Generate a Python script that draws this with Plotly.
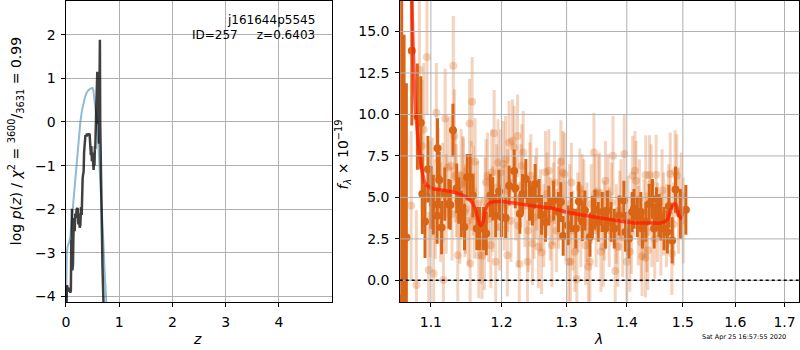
import numpy as np
import plotly.graph_objects as go

# ---------------- left panel: redshift PDF ----------------
z_pdf = [0.008, 0.019, 0.040, 0.060, 0.082, 0.092, 0.100, 0.106, 0.112, 0.120, 0.131,
         0.140, 0.150, 0.163, 0.175, 0.187, 0.200, 0.219, 0.232, 0.245, 0.258, 0.270,
         0.282, 0.295, 0.300, 0.307, 0.313, 0.322, 0.331, 0.340, 0.350, 0.365, 0.380,
         0.393, 0.410, 0.425, 0.444, 0.452, 0.460, 0.468, 0.476, 0.487, 0.497, 0.505,
         0.512, 0.519, 0.528, 0.535, 0.543, 0.550, 0.556, 0.562, 0.570, 0.576, 0.582,
         0.588, 0.594, 0.600, 0.607, 0.614, 0.620, 0.625, 0.631, 0.637, 0.643, 0.650,
         0.665, 0.685, 0.710]
logp_pdf = [-4.3, -3.74, -3.88, -3.80, -3.91, -3.85, -2.7, -3.3, -1.99, -3.4, -3.27,
            -2.6, -2.2, -2.5, -2.1, -2.2, -2.0, -1.97, -2.35, -2.1, -2.42, -2.36,
            -1.95, -2.13, -1.7, -1.5, -1.29, -1.2, -1.14, -0.7, -0.38, -0.30, -0.33,
            -0.27, -0.30, -0.28, -0.27, -0.45, -0.62, -0.76, -0.55, -0.9, -0.7, -1.05,
            -0.8, -1.1, -0.85, -1.0, -0.56, -0.62, -0.3, 0.02, -0.2, 0.6, 1.1,
            1.15, 0.4, 1.12, -0.05, 0.8, -0.5, 1.1, 0.2, 1.88, 0.0, -0.7,
            -1.9, -3.3, -4.4]

z_prior = [0.000, 0.005, 0.015, 0.030, 0.060, 0.082, 0.110, 0.144, 0.175, 0.206, 0.240,
           0.270, 0.300, 0.331, 0.360, 0.393, 0.430, 0.468, 0.500, 0.515, 0.532, 0.555,
           0.580, 0.605, 0.631, 0.652, 0.674, 0.700, 0.725, 0.757, 0.770]
logp_prior = [-4.3, -3.6, -3.0, -2.85, -2.75, -2.62, -2.2, -1.75, -1.25, -0.76, -0.35,
              0.0, 0.26, 0.46, 0.58, 0.68, 0.74, 0.77, 0.78, 0.72, 0.53, 0.28,
              0.0, -0.45, -1.0, -1.5, -2.0, -2.7, -3.4, -4.1, -4.4]

# ---------------- right panel: spectrum ----------------
dark_wave = [1.0612, 1.0643, 1.0673, 1.0745, 1.0819, 1.0864, 1.0885, 1.0921, 1.0960, 1.1003,
             1.1033, 1.1085, 1.1090, 1.1114, 1.1146, 1.1190, 1.1246, 1.1266, 1.1303, 1.1356,
             1.1384, 1.1420, 1.1465, 1.1502, 1.1545, 1.1583, 1.1640, 1.1678, 1.1735, 1.1776,
             1.1835, 1.1872, 1.1914, 1.1963, 1.2000, 1.2061, 1.2112, 1.2188, 1.2203, 1.2273,
             1.2314, 1.2364, 1.2420, 1.2465, 1.2506, 1.2567, 1.2606, 1.2667, 1.2718, 1.2794,
             1.2870, 1.2909, 1.2945, 1.3023, 1.3077, 1.3148, 1.3198, 1.3254, 1.3296, 1.3379,
             1.3420, 1.3461, 1.3517, 1.3583, 1.3637, 1.3670, 1.3731, 1.3786, 1.3868, 1.3950,
             1.3978, 1.4036, 1.4094, 1.4124, 1.4183, 1.4243, 1.4272, 1.4332, 1.4391, 1.4449,
             1.4480, 1.4520, 1.4568, 1.4598, 1.4657, 1.4716, 1.4746, 1.4805, 1.4865, 1.4954,
             1.5056]
dark_flux = [-1.08, -3.0, 2.58, 13.84, 9.87, 9.5, 5.2, 3.55, 6.7, 5.0,
             4.57, 3.9, 7.97, 6.05, 3.18, 5.2, 4.61, 4.55, 9.05, 5.55,
             4.81, 4.0, 3.22, 6.21, 6.21, 5.11, 3.12, 3.12, 3.12, 2.82,
             5.11, 4.91, 3.9, 5.35, 3.82, 3.76, 5.71, 6.59, 5.55, 4.01,
             5.21, 6.11, 4.8, 4.51, 5.81, 4.91, 3.95, 3.52, 4.51, 4.81,
             4.12, 4.72, 2.68, 3.31, 4.12, 3.12, 4.75, 3.55, 4.21, 2.62,
             3.9, 4.27, 3.52, 4.12, 3.12, 4.21, 3.52, 3.12, 3.91, 4.81,
             2.92, 2.52, 4.12, 4.31, 3.82, 4.12, 3.12, 3.52, 4.61, 4.91,
             3.12, 4.42, 3.91, 3.71, 3.12, 2.92, 4.47, 2.41, 5.47, 4.01,
             4.25]
dark_err = [20.0, 17.8, 9.3, 4.5, 3.2, 2.8, 2.4, 2.2, 2.0, 1.9,
            1.8, 1.7, 1.8, 1.7, 1.6, 1.6, 1.5, 1.5, 1.6, 1.5,
            1.4, 1.4, 1.4, 1.4, 1.4, 1.3, 1.3, 1.3, 1.3, 1.3,
            1.3, 1.3, 1.3, 1.3, 1.2, 1.2, 1.2, 1.3, 1.2, 1.2,
            1.2, 1.2, 1.2, 1.2, 1.2, 1.2, 1.2, 1.2, 1.2, 1.2,
            1.2, 1.2, 1.2, 1.2, 1.2, 1.2, 1.2, 1.2, 1.2, 1.2,
            1.2, 1.2, 1.2, 1.2, 1.2, 1.2, 1.2, 1.2, 1.2, 1.2,
            1.2, 1.2, 1.2, 1.2, 1.2, 1.2, 1.2, 1.2, 1.2, 1.2,
            1.2, 1.2, 1.3, 1.3, 1.3, 1.3, 1.3, 1.4, 1.4, 1.5,
            1.5]

light_wave = [1.0736, 1.0806, 1.0845, 1.0880, 1.0904, 1.0947, 1.0970, 1.0990, 1.1020, 1.1038,
              1.1060, 1.1075, 1.1100, 1.1132, 1.1160, 1.1171, 1.1195, 1.1210, 1.1230, 1.1274,
              1.1290, 1.1308, 1.1323, 1.1337, 1.1350, 1.1370, 1.1400, 1.1417, 1.1441, 1.1450,
              1.1469, 1.1480, 1.1520, 1.1536, 1.1545, 1.1560, 1.1573, 1.1590, 1.1600, 1.1616,
              1.1650, 1.1668, 1.1700, 1.1715, 1.1749, 1.1760, 1.1772, 1.1796, 1.1810, 1.1843,
              1.1857, 1.1870, 1.1891, 1.1914, 1.1930, 1.1948, 1.1970, 1.1986, 1.2026, 1.2040,
              1.2061, 1.2086, 1.2090, 1.2112, 1.2140, 1.2162, 1.2188, 1.2210, 1.2238, 1.2250,
              1.2264, 1.2290, 1.2303, 1.2324, 1.2350, 1.2389, 1.2400, 1.2424, 1.2440, 1.2465,
              1.2490, 1.2511, 1.2530, 1.2556, 1.2590, 1.2606, 1.2640, 1.2667, 1.2690, 1.2718,
              1.2740, 1.2768, 1.2790, 1.2809, 1.2840, 1.2870, 1.2890, 1.2909, 1.2942, 1.2965,
              1.2990, 1.3033, 1.3050, 1.3061, 1.3077, 1.3100, 1.3132, 1.3165, 1.3180, 1.3214,
              1.3230, 1.3254, 1.3280, 1.3308, 1.3330, 1.3353, 1.3379, 1.3400, 1.3445, 1.3465,
              1.3480, 1.3517, 1.3540, 1.3560, 1.3600, 1.3620, 1.3637, 1.3682, 1.3700, 1.3740,
              1.3764, 1.3802, 1.3820, 1.3847, 1.3880, 1.3901, 1.3930, 1.3956, 1.4000, 1.4020,
              1.4053, 1.4080, 1.4101, 1.4142, 1.4160, 1.4200, 1.4218, 1.4250, 1.4266, 1.4300,
              1.4325, 1.4330, 1.4350, 1.4368, 1.4396, 1.4426, 1.4440, 1.4490, 1.4515, 1.4540,
              1.4600, 1.4622, 1.4650, 1.4700, 1.4740, 1.4769, 1.4799, 1.4830, 1.4858, 1.4888,
              1.4920, 1.4970, 1.5007]
light_flux = [4.51, -0.28, 12.7, 8.1, 9.1, 13.46, 0.62, 4.9, 5.6, 0.42,
              4.3, 10.1, 6.2, 4.12, 5.3, 0.02, 9.75, 4.6, 6.8, 6.91,
              4.0, 12.94, 8.7, 6.3, 5.4, 1.52, 3.8, 6.31, 5.9, 5.8,
              4.1, 4.3, 3.6, 9.45, 1.02, 5.7, 10.77, 5.4, 3.9, 7.17,
              4.6, 1.52, 2.4, 1.48, 2.02, 4.8, 5.91, 6.3, 3.7, 2.12,
              6.5, 4.3, 8.87, 1.12, 5.6, 7.11, 3.2, 6.51, 7.01, 4.4,
              7.3, 1.52, 5.4, 8.31, 3.6, 8.41, 8.01, 4.9, 8.7, 3.3,
              0.98, 5.7, 6.91, 7.71, 4.5, 1.12, 3.0, 5.81, 6.3, 2.22,
              3.8, 5.0, 5.5, 2.02, 4.2, 1.68, 3.3, 6.51, 5.2, 6.61,
              3.7, 2.12, 4.6, 5.9, 3.0, 4.4, 4.9, 7.15, 6.5, 6.4,
              3.6, 1.12, 4.6, 1.12, 5.9, 3.0, 1.72, 0.06, 4.1, 5.55,
              3.2, 5.2, 4.9, 2.12, 3.5, 0.82, 1.12, 4.6, 7.71, 5.2,
              3.2, 5.2, 5.3, 1.72, 2.02, 3.6, 6.0, 5.2, 3.2, 4.7,
              7.51, 0.56, 3.4, 2.02, 4.2, 4.9, 2.6, 7.61, 1.12, 3.9,
              1.72, 2.8, 6.31, 6.61, 6.0, 3.3, 4.9, 2.3, 1.46, 3.7,
              1.36, 6.35, 2.9, 1.82, 6.35, 5.81, 3.2, 2.5, 6.37, 3.5,
              2.8, 5.41, 4.0, 3.3, 4.5, 6.41, 1.62, 3.4, 6.55, 6.3,
              4.2, 5.1, 3.61]
light_err = [4.5, 4.5, 4.5, 4.0, 4.0, 3.5, 3.5, 3.5, 3.0, 3.0,
             3.0, 3.0, 3.0, 3.0, 3.0, 3.0, 3.0, 3.0, 3.0, 3.0,
             2.8, 3.0, 2.8, 2.8, 2.8, 2.8, 2.8, 2.8, 2.8, 2.8,
             2.7, 2.7, 2.7, 2.7, 2.7, 2.7, 2.7, 2.7, 2.6, 2.6,
             2.6, 2.6, 2.6, 2.6, 2.6, 2.6, 2.6, 2.6, 2.6, 2.6,
             2.6, 2.6, 2.6, 2.6, 2.6, 2.6, 2.6, 2.6, 2.6, 2.6,
             2.6, 2.5, 2.5, 2.5, 2.5, 2.5, 2.5, 2.5, 2.5, 2.5,
             2.5, 2.5, 2.5, 2.5, 2.5, 2.5, 2.5, 2.5, 2.5, 2.5,
             2.5, 2.5, 2.5, 2.5, 2.5, 2.5, 2.5, 2.5, 2.5, 2.5,
             2.5, 2.5, 2.5, 2.5, 2.5, 2.5, 2.5, 2.5, 2.5, 2.5,
             2.4, 2.4, 2.4, 2.4, 2.4, 2.4, 2.4, 2.4, 2.4, 2.4,
             2.4, 2.4, 2.4, 2.4, 2.4, 2.4, 2.4, 2.4, 2.4, 2.4,
             2.4, 2.4, 2.4, 2.4, 2.4, 2.4, 2.4, 2.4, 2.4, 2.4,
             2.4, 2.4, 2.4, 2.4, 2.4, 2.4, 2.4, 2.4, 2.4, 2.4,
             2.4, 2.4, 2.4, 2.4, 2.4, 2.4, 2.4, 2.4, 2.4, 2.4,
             2.4, 2.4, 2.4, 2.4, 2.4, 2.4, 2.4, 2.4, 2.4, 2.4,
             2.5, 2.5, 2.5, 2.5, 2.5, 2.5, 2.5, 2.5, 2.5, 2.5,
             2.6, 2.6, 2.6]

model_wave = [1.0745, 1.0788, 1.0819, 1.0851, 1.0885, 1.0930, 1.1018, 1.1209, 1.1351, 1.1493,
              1.1587, 1.1644, 1.1692, 1.1729, 1.1768, 1.1825, 1.1920, 1.2011, 1.2264, 1.2515,
              1.2768, 1.2995, 1.3296, 1.3571, 1.3813, 1.4094, 1.4391, 1.4627, 1.4716, 1.4776,
              1.4835, 1.4876, 1.4924, 1.4982]
model_flux = [16.9, 10.9, 8.9, 7.5, 6.5, 5.8, 5.55, 5.41, 5.27, 5.01,
              4.61, 3.91, 3.31, 3.52, 4.31, 4.67, 4.75, 4.75, 4.61, 4.47,
              4.35, 4.12, 3.91, 3.76, 3.61, 3.48, 3.46, 3.48, 3.67, 4.21,
              4.61, 4.55, 3.95, 3.67]

left_yticks = [-4, -3, -2, -1, 0, 1, 2]
left_xticks = [0, 1, 2, 3, 4]
right_xticks = [1.1, 1.2, 1.3, 1.4, 1.5, 1.6, 1.7]
right_xticklabels = ["1.1", "1.2", "1.3", "1.4", "1.5", "1.6", "1.7"]
right_yticks = [0.0, 2.5, 5.0, 7.5, 10.0, 12.5, 15.0]

W, H = 800, 350
FONT = "DejaVu Sans"
GRID = "#b0b0b0"
DARK = "rgb(217,102,22)"
LIGHT = "rgba(217,102,22,0.28)"


def px(xp):
    return xp / W


def py(yp):
    return 1 - yp / H


fig = go.Figure()

fig.add_trace(go.Scatter(x=z_prior, y=logp_prior, mode="lines",
                         line=dict(color="rgba(31,119,180,0.5)", width=2),
                         xaxis="x", yaxis="y", showlegend=False))
fig.add_trace(go.Scatter(x=z_pdf, y=logp_pdf, mode="lines",
                         line=dict(color="rgba(0,0,0,0.75)", width=2.5),
                         xaxis="x", yaxis="y", showlegend=False))

fig.add_trace(go.Scatter(x=light_wave, y=light_flux, mode="markers",
                         marker=dict(color=LIGHT, size=8, line=dict(width=0)),
                         error_y=dict(type="data", array=light_err, color=LIGHT,
                                      thickness=3, width=0),
                         xaxis="x2", yaxis="y2", showlegend=False))
fig.add_trace(go.Scatter(x=dark_wave, y=dark_flux, mode="markers",
                         marker=dict(color=DARK, size=8, line=dict(width=0)),
                         error_y=dict(type="data", array=dark_err, color=DARK,
                                      thickness=3, width=0),
                         xaxis="x2", yaxis="y2", showlegend=False))
fig.add_trace(go.Scatter(x=model_wave, y=model_flux, mode="lines",
                         line=dict(color="rgba(255,25,0,0.72)", width=3.5, shape="spline"),
                         xaxis="x2", yaxis="y2", showlegend=False))

ydom = [(H - 304) / H, (H - 1) / H]
axcommon = dict(showline=True, linecolor="black", linewidth=1, mirror=True,
                ticks="outside", ticklen=3.5, tickcolor="black", zeroline=False,
                ticklabelstandoff=3,
                tickfont=dict(family=FONT, size=14, color="black"))

fig.update_layout(
    width=W, height=H,
    margin=dict(l=0, r=0, t=0, b=0),
    paper_bgcolor="white", plot_bgcolor="white",
    xaxis=dict(domain=[px(62.3), px(329.3)], range=[0, 4.99], tickvals=left_xticks,
               showgrid=True, gridcolor=GRID, gridwidth=1, anchor="y", **axcommon),
    yaxis=dict(domain=ydom, range=[-4.13, 2.77], tickvals=left_yticks,
               showgrid=True, gridcolor=GRID, gridwidth=1, anchor="x", **axcommon),
    xaxis2=dict(domain=[px(397.7), px(799.3)], type="log",
                range=[np.log10(1.0586), np.log10(1.7312)],
                tickvals=right_xticks, ticktext=right_xticklabels,
                showgrid=False, anchor="y2", **axcommon),
    yaxis2=dict(domain=ydom, range=[-1.32, 16.84], tickvals=right_yticks,
                tickformat=".1f", showgrid=False, anchor="x2", **axcommon),
)

shapes = []
for v in right_xticks:
    shapes.append(dict(type="line", xref="x2", yref="y2 domain", x0=v, x1=v, y0=0, y1=1,
                       line=dict(color=GRID, width=1), layer="above"))
for v in right_yticks:
    shapes.append(dict(type="line", xref="x2 domain", yref="y2", x0=0, x1=1, y0=v, y1=v,
                       line=dict(color=GRID, width=1), layer="above"))
shapes.append(dict(type="line", xref="x2 domain", yref="y2", x0=0, x1=1, y0=0, y1=0,
                   line=dict(color="black", width=1.5, dash="dot"), layer="above"))
fig.update_layout(shapes=shapes)

ann = [
    dict(x=px(314.5), y=py(20), text="j161644p5545", xanchor="right", yanchor="middle",
         font=dict(family=FONT, size=12, color="black")),
    dict(x=px(314.5), y=py(35), text="ID=257\u00a0\u00a0\u00a0\u00a0\u00a0z=0.6403",
         xanchor="right", yanchor="middle", font=dict(family=FONT, size=12, color="black")),
    dict(x=px(194), y=py(341), text="<i>z</i>", xanchor="center", yanchor="middle",
         font=dict(family=FONT, size=14, color="black")),
    dict(x=px(597), y=py(341), text="<i>λ</i>", xanchor="center", yanchor="middle",
         font=dict(family=FONT, size=14, color="black")),
    dict(x=px(12), y=py(142), textangle=-90,
         text="log <i>p</i>(<i>z</i>) / <i>χ</i><sup>2</sup> = <sup>3600</sup>/<sub>3631</sub> = 0.99",
         xanchor="center", yanchor="middle", font=dict(family=FONT, size=14, color="black")),
    dict(x=px(341), y=py(155), textangle=-90,
         text="<i>f</i><sub><i>λ</i></sub> × 10<sup>−19</sup>",
         xanchor="center", yanchor="middle", font=dict(family=FONT, size=14, color="black")),
    dict(x=px(788), y=py(339), text="Sat Apr 25 16:57:55 2020", xanchor="right",
         yanchor="middle", font=dict(family=FONT, size=6.5, color="black")),
]
for a in ann:
    a.update(xref="paper", yref="paper", showarrow=False)
fig.update_layout(annotations=ann)

fig.write_html("out.html", config={"displayModeBar": False},
               post_script="document.body.style.margin='0';document.body.style.overflow='hidden';")
